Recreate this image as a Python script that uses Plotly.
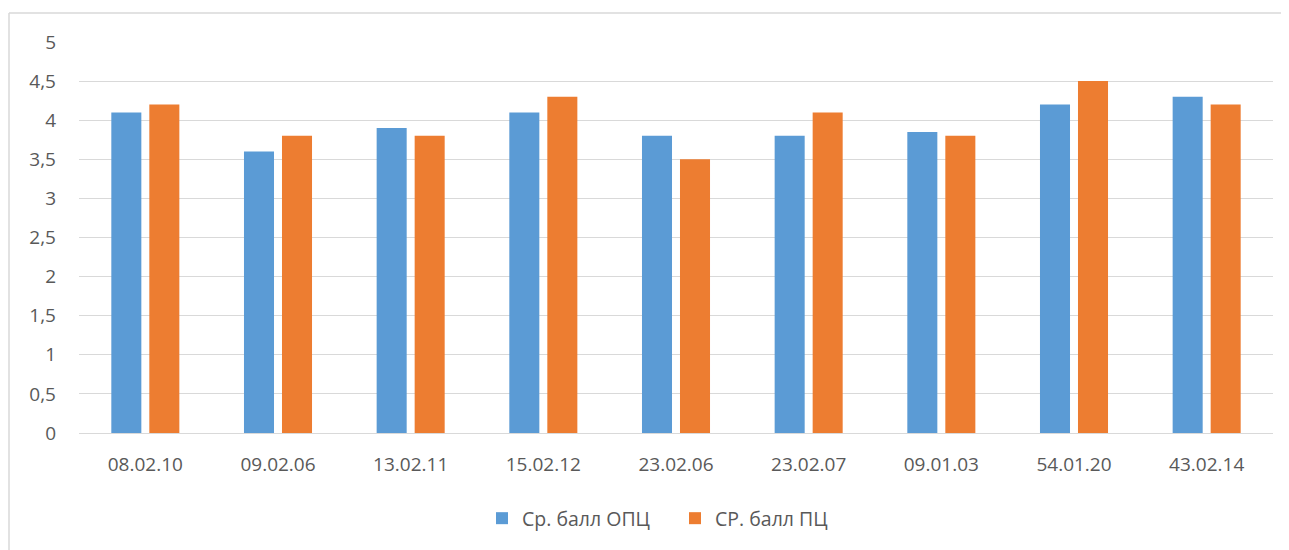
import plotly.graph_objects as go

categories = ["08.02.10", "09.02.06", "13.02.11", "15.02.12", "23.02.06",
              "23.02.07", "09.01.03", "54.01.20", "43.02.14"]
opc_values = [4.1, 3.6, 3.9, 4.1, 3.8, 3.8, 3.85, 4.2, 4.3]
pc_values = [4.2, 3.8, 3.8, 4.3, 3.5, 4.1, 3.8, 4.5, 4.2]
series_names = ["Ср. балл ОПЦ", "СР. балл ПЦ"]
y_ticks = [0, 0.5, 1, 1.5, 2, 2.5, 3, 3.5, 4, 4.5, 5]
y_tick_labels = ["0", "0,5", "1", "1,5", "2", "2,5", "3", "3,5", "4", "4,5", "5"]

# page body has an 8px margin, so the figure is laid out in page coords offset by 8
W, H = 1281, 542
L, R, T, B = 71, 16, 34, 117
pw, ph = W - L - R, H - T - B

fig = go.Figure()
fig.add_trace(go.Bar(x=categories, y=opc_values, name=series_names[0],
                     marker=dict(color="#5b9bd5", line=dict(width=0))))
fig.add_trace(go.Bar(x=categories, y=pc_values, name=series_names[1],
                     marker=dict(color="#ed7d31", line=dict(width=0))))

font = dict(family="Open Sans, Liberation Sans, sans-serif", size=19, color="#595959")
fig.update_layout(
    width=W, height=H,
    margin=dict(l=L, r=R, t=T, b=B, autoexpand=False),
    paper_bgcolor="white", plot_bgcolor="white",
    barmode="group", bargap=0.427, bargroupgap=0.21,
    font=font,
    showlegend=True,
    legend=dict(orientation="h", x=(474 - L) / pw, xanchor="left",
                y=1 - (491 - T) / ph, yanchor="top",
                font=dict(size=19.5, color="#595959"),
                entrywidth=148, entrywidthmode="pixels",
                traceorder="normal"),
    xaxis=dict(showgrid=False, showline=False, ticks="", tickfont=font,
               ticklabelstandoff=18),
    yaxis=dict(range=[0, 5], tickvals=y_ticks, ticktext=y_tick_labels,
               showgrid=True, gridcolor="#d9d9d9", gridwidth=1,
               zeroline=True, zerolinecolor="#d9d9d9", zerolinewidth=1,
               showline=False, ticks="", tickfont=font, ticklabelstandoff=22),
    shapes=[
        dict(type="line", xref="paper", yref="paper",
             x0=(1 - L) / pw, x1=(1 - L) / pw, y0=1 + (T - 5) / ph, y1=-B / ph - 0.05,
             line=dict(color="#d9d9d9", width=1.5)),
        dict(type="line", xref="paper", yref="paper",
             x0=(1 - L) / pw, x1=(W + 5 - L) / pw, y0=1 + (T - 5) / ph, y1=1 + (T - 5) / ph,
             line=dict(color="#d9d9d9", width=1.5)),
    ],
)
fig.write_html("out.html")
